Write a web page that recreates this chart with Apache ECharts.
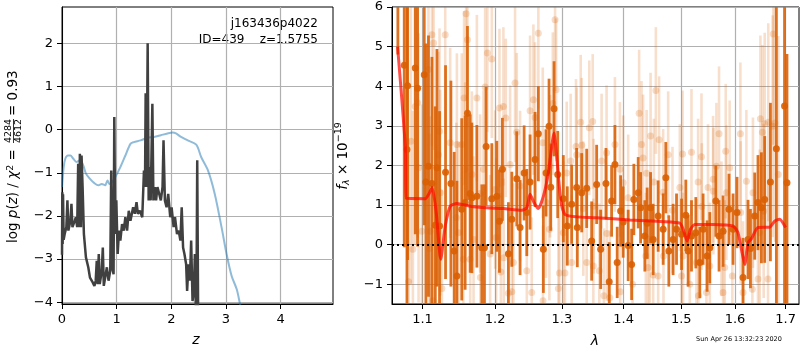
<!DOCTYPE html>
<html><head><meta charset="utf-8">
<script src="https://cdn.jsdelivr.net/npm/echarts@6/dist/echarts.min.js"></script>
<style>html,body{margin:0;padding:0;background:#fff}#c{width:800px;height:350px}</style>
</head><body><div id="c"></div>
<script>
// ---------- left panel: log p(z) ----------
const pzTicksX = [0, 1, 2, 3, 4];
const pzTicksY = [-4, -3, -2, -1, 0, 1, 2];
const pzCurve = [[0,-2.9],[0.006,-1.45],[0.012,-2.65],[0.019,-1.5],[0.03,-2.55],[0.049,-2.42],[0.08,-2.26],[0.099,-1.64],[0.117,-2.34],[0.154,-2.11],[0.173,-1.72],[0.191,-2.26],[0.235,-2.11],[0.253,-2.03],[0.278,-2.26],[0.296,-0.79],[0.315,-2.26],[0.327,-0.56],[0.346,-2.26],[0.358,-0.6],[0.377,-1.33],[0.401,-2.42],[0.438,-2.96],[0.481,-3.19],[0.512,-3.43],[0.562,-3.54],[0.593,-3.62],[0.617,-3.5],[0.636,-3.04],[0.654,-3.58],[0.673,-2.88],[0.691,-3.58],[0.728,-3.27],[0.747,-2.73],[0.765,-3.62],[0.79,-3.43],[0.821,-3.19],[0.852,-3.5],[0.883,-3.27],[0.901,-0.95],[0.92,-3.19],[0.944,-3.35],[0.957,0.29],[0.975,-2.42],[0.994,-1.64],[1.019,-2.88],[1.043,-2.34],[1.068,-2.57],[1.099,-2.19],[1.13,-2.34],[1.16,-2.03],[1.191,-2.34],[1.222,-1.88],[1.253,-2.11],[1.302,-1.8],[1.333,-1.95],[1.364,-1.68],[1.389,-1.95],[1.426,-1.88],[1.469,-2.03],[1.5,-0.95],[1.519,-1.33],[1.531,0.84],[1.549,-1.33],[1.568,2.0],[1.586,-1.64],[1.605,-0.87],[1.623,-1.64],[1.654,0.6],[1.673,-1.64],[1.698,-1.33],[1.722,-1.64],[1.747,-1.33],[1.778,-1.33],[1.809,-1.64],[1.84,-1.33],[1.858,-0.25],[1.883,-1.64],[1.914,-1.8],[1.944,-1.49],[1.981,-2.03],[2.006,-1.8],[2.043,-2.26],[2.068,-2.03],[2.105,-2.42],[2.136,-2.34],[2.167,-2.57],[2.191,-1.8],[2.216,-2.73],[2.241,-2.88],[2.272,-3.12],[2.29,-3.74],[2.315,-3.12],[2.34,-3.5],[2.364,-2.57],[2.389,-3.97],[2.414,-3.74],[2.432,-2.88],[2.457,-4.74],[2.475,-0.71],[2.494,-4.74],[2.55,-6.5],[2.7,-10.0]];
const chiCurve = [[0,-1.33],[0.031,-0.87],[0.062,-0.67],[0.111,-0.6],[0.154,-0.6],[0.204,-0.67],[0.265,-0.75],[0.327,-0.71],[0.389,-0.83],[0.438,-1.02],[0.512,-1.14],[0.593,-1.24],[0.667,-1.29],[0.728,-1.26],[0.79,-1.29],[0.833,-1.18],[0.87,-1.26],[0.914,-1.22],[0.975,-1.1],[1.068,-0.87],[1.16,-0.6],[1.253,-0.33],[1.315,-0.29],[1.438,-0.25],[1.562,-0.19],[1.685,-0.17],[1.809,-0.13],[1.932,-0.09],[2.025,-0.07],[2.086,-0.09],[2.179,-0.17],[2.302,-0.25],[2.457,-0.35],[2.549,-0.64],[2.673,-0.95],[2.796,-1.49],[2.92,-2.26],[3.012,-2.88],[3.105,-3.39],[3.198,-3.7],[3.259,-4.05],[3.352,-4.6]];

// ---------- right panel: spectrum ----------
const specTicksX = [1.1, 1.2, 1.3, 1.4, 1.5, 1.6, 1.7];
const specTicksY = [-1, 0, 1, 2, 3, 4, 5, 6];
// [wavelength, flux, error]
const darkSpec = [[1.068,9.0,4.2],[1.0762,4.53,4.6],[1.0797,2.40,4.5],[1.0805,4.01,4.4],[1.0905,4.46,4.2],[1.0935,3.95,4.0],[1.1023,4.29,3.8],[1.1045,1.58,3.5],[1.1079,1.98,3.3],[1.1125,1.54,3.2],[1.117,0.49,3.0],[1.1192,1.94,3.0],[1.1227,0.47,2.9],[1.1308,1.83,2.7],[1.1381,1.54,2.6],[1.1426,-0.16,2.5],[1.1463,-0.79,2.4],[1.153,0.89,2.3],[1.1577,1.06,2.2],[1.1609,3.32,2.2],[1.1647,1.29,2.0],[1.1671,1.18,1.9],[1.1741,1.22,1.8],[1.1811,-0.08,1.6],[1.1848,-0.08,1.6],[1.1872,2.48,1.5],[1.1953,1.16,1.4],[1.2025,1.22,1.4],[1.2063,0.59,1.3],[1.2106,1.90,1.3],[1.2193,-0.23,1.3],[1.2243,0.64,1.2],[1.2316,1.66,1.2],[1.2365,0.43,1.2],[1.2425,1.81,1.2],[1.2465,0.81,1.1],[1.2514,1.58,1.2],[1.2589,2.15,1.2],[1.2639,2.80,1.2],[1.2715,-0.12,1.1],[1.2756,1.81,1.1],[1.2802,2.99,1.2],[1.2828,1.45,1.1],[1.2879,3.43,1.2],[1.2936,1.77,1.1],[1.3023,1.16,1.1],[1.3085,0.47,1.0],[1.3154,1.02,1.0],[1.3233,1.44,1.0],[1.3243,0.43,1.0],[1.3313,1.31,1.0],[1.3393,1.42,1.0],[1.3473,0.09,1.0],[1.3554,1.52,1.0],[1.3619,-0.12,1.0],[1.3706,1.54,0.9],[1.376,-0.94,1.0],[1.3799,1.10,0.9],[1.3854,2.02,1.0],[1.3892,-0.45,0.9],[1.3949,0.85,0.9],[1.3992,0.57,0.9],[1.4076,-0.02,0.9],[1.4134,-0.50,0.9],[1.4172,1.14,0.9],[1.4246,1.31,0.9],[1.4287,0.93,0.9],[1.436,0.22,0.9],[1.44,0.54,0.9],[1.4459,0.93,0.9],[1.4504,0.13,0.9],[1.4591,0.72,0.9],[1.4679,0.39,0.9],[1.4726,1.69,0.9],[1.4779,-0.16,0.9],[1.4855,0.13,0.9],[1.4916,0.39,0.9],[1.5006,0.26,0.9],[1.5083,0.74,0.9],[1.5125,-0.16,0.9],[1.5186,0.22,0.9],[1.5265,0.30,0.9],[1.5338,-0.45,0.9],[1.5399,0.39,0.9],[1.5473,-0.29,0.9],[1.5523,-0.08,0.9],[1.5635,1.10,0.9],[1.5696,0.22,0.9],[1.5772,0.34,0.9],[1.5885,0.89,0.9],[1.5962,0.39,0.9],[1.6038,0.81,0.9],[1.6154,-0.83,1.0],[1.6251,0.13,1.0],[1.6298,-0.10,1.0],[1.6382,0.72,1.1],[1.6446,1.06,1.2],[1.6514,0.93,1.4],[1.6579,1.14,1.6],[1.6693,1.58,2.0],[1.6813,2.42,4.6],[1.6978,3.5,6.0],[1.7028,1.56,3.25]];
const lightSpec = [[1.0818,-0.94,3.6],[1.0848,2.61,3.6],[1.0874,-0.12,3.5],[1.0905,3.49,3.5],[1.0935,3.58,3.4],[1.0948,1.94,3.4],[1.0992,0.34,3.2],[1.1079,4.42,2.9],[1.1093,-0.10,2.9],[1.1102,0.34,2.9],[1.1125,5.30,2.8],[1.1138,-1.42,2.8],[1.1147,5.09,2.7],[1.1213,2.27,2.6],[1.1227,2.86,2.6],[1.1236,1.31,2.6],[1.1259,-1.11,2.5],[1.1304,5.30,2.5],[1.1371,2.57,2.4],[1.1455,0.68,2.4],[1.1463,2.53,2.3],[1.1484,0.30,2.3],[1.153,2.53,2.3],[1.1552,-0.37,2.2],[1.1562,3.70,2.2],[1.1577,1.90,2.2],[1.159,5.83,2.2],[1.1609,5.17,2.2],[1.1647,-0.37,2.1],[1.1671,1.77,2.1],[1.1694,0.13,2.1],[1.1741,3.70,2.1],[1.1787,1.29,2.0],[1.179,-0.83,2.0],[1.1834,1.90,2.0],[1.1858,3.98,2.0],[1.189,4.84,2.0],[1.1929,-0.24,2.0],[1.1953,4.69,2.0],[1.2001,1.39,2.0],[1.2015,0.18,2.0],[1.2063,3.45,2.0],[1.2083,-0.69,2.0],[1.212,3.49,2.0],[1.2125,-0.33,2.0],[1.2155,3.20,2.0],[1.2193,-1.23,2.0],[1.2218,2.02,2.0],[1.2243,-1.19,2.0],[1.2266,-0.45,2.0],[1.2291,4.08,2.0],[1.2316,2.84,2.0],[1.2365,1.48,1.9],[1.2465,-0.66,1.9],[1.2514,3.38,1.9],[1.2539,-1.21,1.9],[1.2564,3.66,1.9],[1.2589,3.21,1.9],[1.2639,5.34,1.9],[1.2706,2.57,1.9],[1.271,-1.42,1.9],[1.2756,1.06,1.9],[1.2807,0.39,1.8],[1.2818,1.98,1.8],[1.286,3.56,1.8],[1.2895,5.68,1.8],[1.2911,3.91,1.8],[1.2946,-1.11,1.8],[1.2962,-0.72,1.8],[1.3023,0.30,1.8],[1.3049,-0.72,1.8],[1.3076,1.81,1.8],[1.3138,2.11,1.7],[1.3154,-0.45,1.7],[1.3222,2.48,1.7],[1.3233,2.27,1.7],[1.3297,3.09,1.7],[1.3313,2.51,1.7],[1.3339,0.91,1.7],[1.3393,-0.45,1.7],[1.3435,2.95,1.7],[1.349,3.11,1.7],[1.35,-0.54,1.7],[1.3505,0.97,1.7],[1.3597,-0.66,1.7],[1.3635,2.11,1.7],[1.3672,-1.29,1.7],[1.3716,2.32,1.7],[1.372,0.28,1.7],[1.377,-1.34,1.7],[1.3854,2.53,1.7],[1.3937,1.90,1.7],[1.3942,-1.19,1.7],[1.3992,1.56,1.7],[1.4076,1.18,1.6],[1.415,-1.00,1.6],[1.4262,3.32,1.6],[1.4303,2.53,1.6],[1.433,2.19,1.6],[1.4377,-0.29,1.6],[1.439,1.80,1.6],[1.4416,-0.58,1.6],[1.4445,0.13,1.6],[1.4459,2.74,1.6],[1.4504,-0.77,1.6],[1.4516,1.58,1.6],[1.4551,3.89,1.6],[1.4591,-0.79,1.6],[1.4608,2.65,1.6],[1.4679,1.32,1.6],[1.4685,-0.29,1.6],[1.4767,2.27,1.6],[1.4844,0.87,1.6],[1.4975,1.44,1.6],[1.5006,-0.79,1.6],[1.5024,2.29,1.6],[1.5034,-0.29,1.6],[1.5155,-1.00,1.6],[1.5186,2.33,1.6],[1.5277,-0.45,1.6],[1.5307,1.58,1.6],[1.5312,-1.29,1.6],[1.5369,2.22,1.6],[1.5375,0.96,1.6],[1.5461,-1.21,1.6],[1.549,1.44,1.6],[1.5523,-0.54,1.6],[1.5584,1.65,1.6],[1.559,1.35,1.6],[1.5646,1.98,1.6],[1.5696,2.80,1.7],[1.5741,0.40,1.7],[1.5772,-1.21,1.7],[1.5803,-0.58,1.7],[1.5822,2.36,1.7],[1.5835,1.31,1.7],[1.5897,1.94,1.7],[1.5948,-0.79,1.7],[1.6103,2.80,1.8],[1.6108,0.81,1.8],[1.6154,-1.21,1.8],[1.6219,1.60,1.8],[1.6336,-1.13,1.9],[1.6347,1.31,1.9],[1.6446,-0.87,2.0],[1.648,0.30,2.1],[1.6494,3.18,2.1],[1.6533,2.84,2.2],[1.6559,0.85,2.2],[1.6579,3.05,2.3],[1.6645,-0.87,2.5],[1.665,3.09,2.5],[1.6738,2.99,2.8],[1.675,5.32,2.8],[1.6784,3.07,3.0],[1.6851,1.77,3.5]];
const modelWave = [1.0676,1.0775,1.0788,1.1036,1.1093,1.1129,1.1182,1.1243,1.1304,1.1371,1.1463,1.1647,1.1882,1.2120,1.2390,1.2465,1.2514,1.2574,1.2639,1.2715,1.2791,1.2879,1.2920,1.2982,1.3049,1.3233,1.3554,1.4105,1.4679,1.4975,1.5034,1.5106,1.5168,1.5246,1.5584,1.5962,1.6057,1.6123,1.6187,1.6251,1.6317,1.6446,1.6678,1.6778,1.6879,1.7000];
const modelFlux = [5.0,2.48,1.17,1.16,1.31,1.44,0.81,-0.37,0.47,0.97,1.04,0.97,0.93,0.91,0.87,0.93,1.27,1.06,0.91,1.22,1.81,2.82,2.23,1.14,0.76,0.70,0.68,0.62,0.58,0.54,0.39,0.09,0.39,0.51,0.51,0.47,0.30,-0.12,-0.50,0.05,0.15,0.43,0.44,0.59,0.64,0.43];

const FONT = 'DejaVu Sans';
const minus = v => String(v).replace('-', '\u2212');

function errRender(barColor, lw, r, dotColor) {
  return function (params, api) {
    const x = api.value(0), y = api.value(1), e = api.value(2);
    const p1 = api.coord([x, y - e]), p2 = api.coord([x, y + e]), c = api.coord([x, y]);
    return {type: 'group', children: [
      {type: 'line', shape: {x1: p1[0], y1: p1[1], x2: p2[0], y2: p2[1]}, style: {stroke: barColor, lineWidth: lw}},
      {type: 'circle', shape: {cx: c[0], cy: c[1], r: r}, style: {fill: dotColor}}
    ]};
  };
}

function mkAxis(extra) {
  const base = {
    axisLine: {show: true, onZero: false, lineStyle: {color: '#000', width: 1}},
    axisTick: {show: true, length: 5, lineStyle: {color: '#000', width: 1}},
    axisLabel: {color: '#000', fontFamily: FONT, fontSize: 13, margin: 9},
    splitLine: {show: true, lineStyle: {color: '#b0b0b0', width: 1.2}}
  };
  for (const k in extra) {
    if (base[k] && typeof extra[k] === 'object' && !Array.isArray(extra[k])) base[k] = Object.assign({}, base[k], extra[k]);
    else base[k] = extra[k];
  }
  return base;
}

const chart = echarts.init(document.getElementById('c'), null, {renderer: 'canvas'});
const txt = {fontFamily: FONT, fill: '#000'};
chart.setOption({
  animation: false,
  backgroundColor: '#fff',
  grid: [
    {left: 62, top: 7, width: 271, height: 297, show: true, borderColor: '#000', borderWidth: 1, backgroundColor: 'transparent'},
    {left: 392, top: 7, width: 407, height: 297, show: true, borderColor: '#000', borderWidth: 1, backgroundColor: 'transparent'}
  ],
  xAxis: [
    mkAxis({gridIndex: 0, type: 'value', min: 0, max: 4.96,
      axisLabel: {customValues: pzTicksX, formatter: minus}, axisTick: {customValues: pzTicksX}}),
    mkAxis({gridIndex: 1, type: 'log', min: 1.0605, max: 1.7275,
      axisLabel: {customValues: specTicksX, formatter: v => (+v).toFixed(1)}, axisTick: {customValues: specTicksX}})
  ],
  yAxis: [
    mkAxis({gridIndex: 0, type: 'value', min: -4.04, max: 2.84,
      axisLabel: {customValues: pzTicksY, formatter: minus}, axisTick: {customValues: pzTicksY}}),
    mkAxis({gridIndex: 1, type: 'value', min: -1.5, max: 6,
      axisLabel: {customValues: specTicksY, formatter: minus}, axisTick: {customValues: specTicksY}})
  ],
  series: [
    {type: 'line', xAxisIndex: 0, yAxisIndex: 0, data: chiCurve, showSymbol: false, smooth: 0.3, z: 2,
      lineStyle: {color: 'rgba(31,119,180,0.5)', width: 2}},
    {type: 'line', xAxisIndex: 0, yAxisIndex: 0, data: pzCurve, showSymbol: false, z: 3,
      lineStyle: {color: '#404040', width: 2.5}},
    {type: 'custom', xAxisIndex: 1, yAxisIndex: 1, clip: true, z: 2,
      data: lightSpec, encode: {x: 0, y: 1},
      renderItem: errRender('rgba(217,95,2,0.2)', 2.6, 3.5, 'rgba(217,95,2,0.22)')},
    {type: 'custom', xAxisIndex: 1, yAxisIndex: 1, clip: true, z: 3,
      data: darkSpec, encode: {x: 0, y: 1},
      renderItem: errRender('rgba(217,95,2,0.88)', 2.8, 3.5, 'rgba(217,95,2,0.9)')},
    {type: 'line', xAxisIndex: 1, yAxisIndex: 1, z: 4,
      data: modelWave.map((w, i) => [w, modelFlux[i]]), showSymbol: false, smooth: 0.2,
      lineStyle: {color: 'rgba(255,10,0,0.72)', width: 3},
      markLine: {silent: true, symbol: 'none', label: {show: false},
        lineStyle: {color: '#000', type: [2, 3], width: 2},
        data: [{yAxis: 0}]}}
  ],
  graphic: [
    {type: 'text', x: 318, y: 24, style: Object.assign({text: 'j163436p4022', fontSize: 12, textAlign: 'right', textVerticalAlign: 'middle'}, txt)},
    {type: 'text', x: 318, y: 40, style: Object.assign({text: 'ID=439    z=1.5755', fontSize: 12, textAlign: 'right', textVerticalAlign: 'middle'}, txt)},
    {type: 'text', x: 196, y: 340, style: Object.assign({text: 'z', fontSize: 14, fontStyle: 'italic', textAlign: 'center', textVerticalAlign: 'middle'}, txt)},
    {type: 'text', x: 595, y: 341, style: Object.assign({text: 'λ', fontSize: 14, fontStyle: 'italic', textAlign: 'center', textVerticalAlign: 'middle'}, txt)},
    {type: 'text', x: 696, y: 339, style: Object.assign({text: 'Sun Apr 26 13:32:23 2020', fontSize: 6.5, textAlign: 'left', textVerticalAlign: 'middle'}, txt)},
    // left y label
    {type: 'text', x: 13, y: 243, rotation: Math.PI / 2, style: Object.assign({
      text: '{n|log }{i|p}{n|(}{i|z}{n|) / }{i|χ}{s|2}{n| =}', textAlign: 'left', textVerticalAlign: 'middle',
      rich: {n: {fontSize: 13.5, fontFamily: FONT}, i: {fontSize: 13.5, fontFamily: FONT, fontStyle: 'italic'},
        s: {fontSize: 9.5, fontFamily: FONT, verticalAlign: 'top', lineHeight: 14}}}, txt)},
    {type: 'text', x: 8.5, y: 131, rotation: Math.PI / 2, style: Object.assign({text: '4284', fontSize: 9.5, textAlign: 'center', textVerticalAlign: 'middle'}, txt)},
    {type: 'text', x: 18.5, y: 131, rotation: Math.PI / 2, style: Object.assign({text: '4612', fontSize: 9.5, textAlign: 'center', textVerticalAlign: 'middle'}, txt)},
    {type: 'line', shape: {x1: 13.5, y1: 143, x2: 13.5, y2: 119}, style: {stroke: '#000', lineWidth: 0.8}},
    {type: 'text', x: 13, y: 116, rotation: Math.PI / 2, style: Object.assign({text: '= 0.93', fontSize: 13.5, textAlign: 'left', textVerticalAlign: 'middle'}, txt)},
    // right y label
    {type: 'text', x: 343, y: 156, rotation: Math.PI / 2, style: Object.assign({
      text: '{i|f}{sub|λ}{n| × 10}{s|\u221219}', textAlign: 'center', textVerticalAlign: 'middle',
      rich: {n: {fontSize: 13.5, fontFamily: FONT}, i: {fontSize: 13.5, fontFamily: FONT, fontStyle: 'italic'},
        sub: {fontSize: 9.5, fontFamily: FONT, fontStyle: 'italic', verticalAlign: 'bottom', lineHeight: 18},
        s: {fontSize: 9.5, fontFamily: FONT, verticalAlign: 'top', lineHeight: 14}}}, txt)}
  ]
});
</script>
</body></html>
